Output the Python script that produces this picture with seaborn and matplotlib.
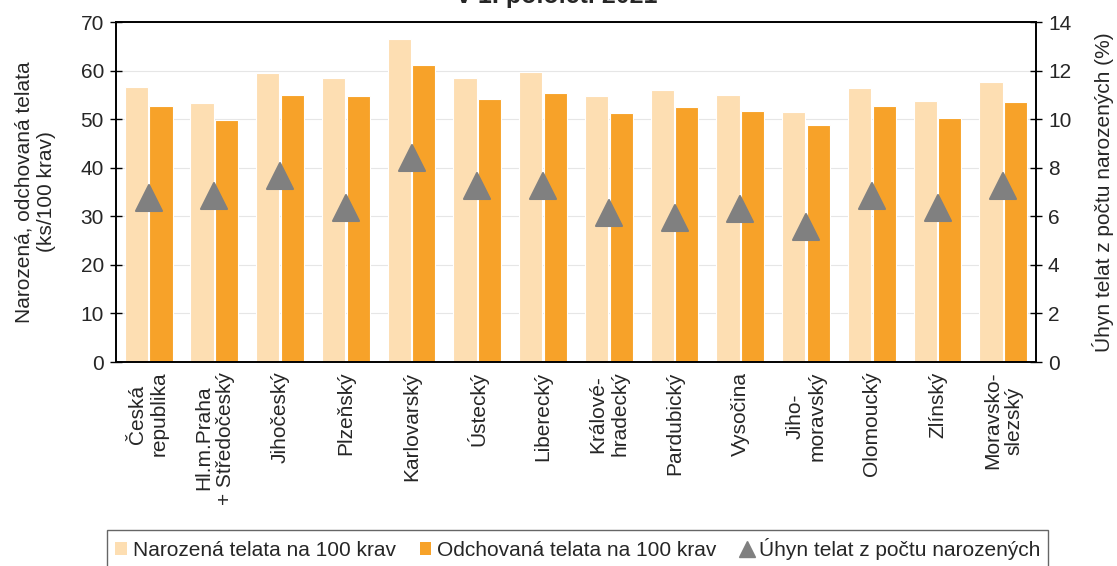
import numpy as np
import pandas as pd
import matplotlib
matplotlib.use("Agg")
import matplotlib.pyplot as plt
import seaborn as sns
from matplotlib.patches import Patch
from matplotlib.lines import Line2D
from matplotlib.markers import MarkerStyle
from matplotlib.ticker import FixedLocator

# data
kraje = ["Česká\nrepublika", "Hl.m.Praha\n+ Středočeský", "Jihočeský", "Plzeňský",
         "Karlovarský", "Ústecký", "Liberecký", "Králové-\nhradecký", "Pardubický",
         "Vysočina", "Jiho-\nmoravský", "Olomoucký", "Zlínský", "Moravsko-\nslezský"]
narozena = [56.7, 53.4, 59.5, 58.5, 66.6, 58.5, 59.7, 54.7, 56.0, 55.0, 51.5, 56.5, 53.7, 57.6]
odchovana = [52.8, 49.8, 54.9, 54.7, 61.1, 54.1, 55.4, 51.3, 52.6, 51.6, 48.7, 52.7, 50.3, 53.5]
uhyn = [6.76, 6.83, 7.66, 6.34, 8.42, 7.23, 7.25, 6.14, 5.95, 6.29, 5.56, 6.83, 6.36, 7.24]

lab_nar = "Narozená telata na 100 krav"
lab_odch = "Odchovaná telata na 100 krav"
lab_uhyn = "Úhyn telat z počtu narozených"

c_light = "#FDDEB2"
c_dark = "#F7A229"
c_gray = "#808080"
fs = 15

sns.set_style("white")
plt.rcParams["font.family"] = ["Liberation Sans", "DejaVu Sans"]
plt.rcParams["font.size"] = fs

df = pd.DataFrame({
    "kraj": kraje * 2,
    "ukazatel": [lab_nar] * len(kraje) + [lab_odch] * len(kraje),
    "hodnota": narozena + odchovana,
})

fig = plt.figure(figsize=(11.17, 5.66), dpi=100)
ax = fig.add_axes([0.1036, 0.3604, 0.824, 0.6007])

sns.barplot(data=df, x="kraj", y="hodnota", hue="ukazatel",
            palette=[c_light, c_dark], saturation=1, width=0.75, gap=0.06,
            edgecolor="white", linewidth=0.8, legend=False, ax=ax)

n = len(kraje)
ax.set_xlim(-0.5, n - 0.5)
ax.set_ylim(0, 70)
ax.set_yticks(range(0, 71, 10))
ax.yaxis.grid(True, color="#E6E6E6", linewidth=0.8)
ax.set_axisbelow(True)
ax.set_xlabel("")
ax.set_ylabel("Narozená, odchovaná telata\n(ks/100 krav)", fontsize=fs, labelpad=18)

ax.set_xticks(range(n))
ax.set_xticklabels(kraje, rotation=90, ha="center", va="top",
                   multialignment="center", fontsize=fs)
ax.tick_params(axis="x", which="major", length=0, pad=7)
ax.xaxis.set_minor_locator(FixedLocator(np.arange(-0.5, n, 1.0)))
ax.tick_params(axis="x", which="minor", direction="inout", length=10, width=1, color="black")
ax.tick_params(axis="y", direction="inout", length=9, width=1, color="black", labelsize=fs, pad=4)

for s in ax.spines.values():
    s.set_visible(True)
    s.set_color("black")
    s.set_linewidth(1.2)

tri = MarkerStyle("^", joinstyle="round")
ax2 = ax.twinx()
ax2.plot(np.arange(n), uhyn, linestyle="none", marker=tri, markersize=19,
         color=c_gray, markeredgecolor=c_gray, markeredgewidth=1.5)
ax2.set_ylim(0, 14)
ax2.set_yticks(range(0, 15, 2))
ax2.set_ylabel("Úhyn telat z počtu narozených (%)", fontsize=fs, labelpad=15)
ax2.tick_params(axis="y", direction="inout", length=9, width=1, color="black", labelsize=fs, pad=4)
ax2.set_xlim(-0.5, n - 0.5)
for s in ax2.spines.values():
    s.set_color("black")
    s.set_linewidth(1.2)

# title is cut off at the top edge, as in the reference
fig.text(0.499, 0.995, "v 1. pololetí 2021", ha="center", va="baseline",
         fontsize=18, fontweight="bold")

handles = [
    Patch(facecolor=c_light, edgecolor="none", label=lab_nar),
    Patch(facecolor=c_dark, edgecolor="none", label=lab_odch),
    Line2D([], [], linestyle="none", marker="^", markersize=12, color=c_gray, label=lab_uhyn),
]
leg = fig.legend(handles=handles, loc="upper center", bbox_to_anchor=(0.517, 0.064),
                 ncol=3, frameon=True, fancybox=False, fontsize=fs,
                 handlelength=0.55, handleheight=0.55, handletextpad=0.3,
                 columnspacing=1.15, borderpad=0.4, borderaxespad=0)
leg.get_frame().set_edgecolor("#404040")
leg.get_frame().set_linewidth(1.0)

fig.savefig("out.png", dpi=100)
